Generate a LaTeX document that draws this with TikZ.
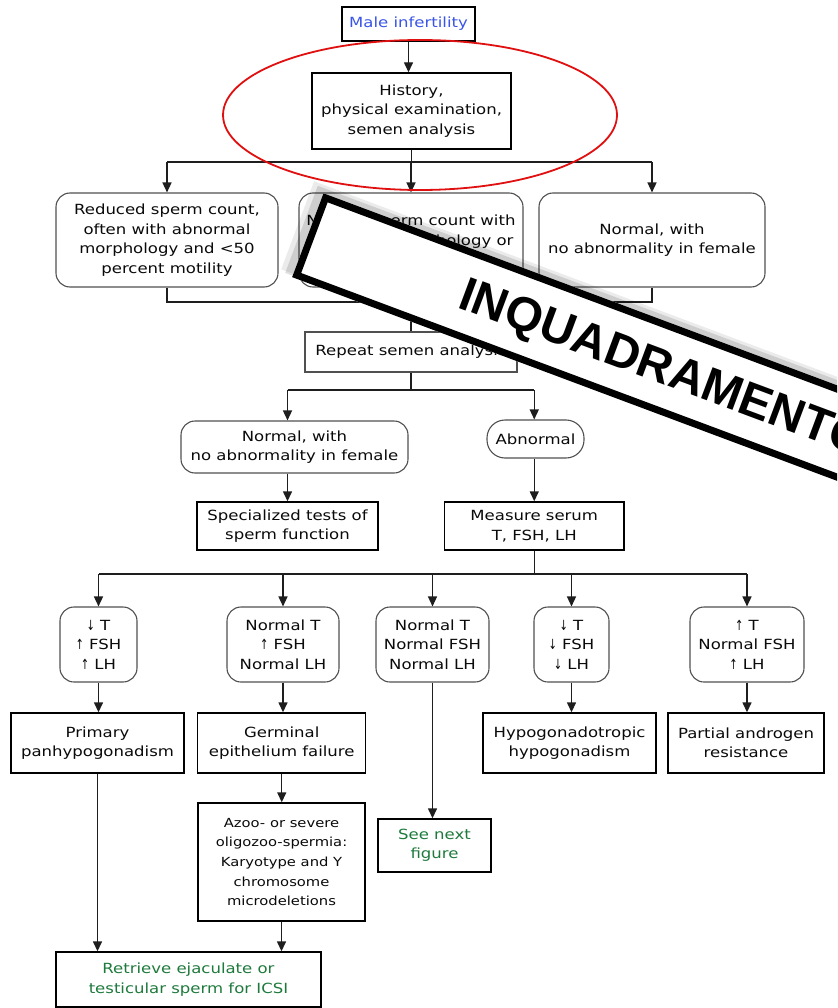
\documentclass[tikz,border=0pt]{standalone}
\usepackage{fontspec}
\setmainfont[FakeStretch=1.18]{DejaVu Sans}
\newfontfamily\bannerfont{Liberation Sans}
\usetikzlibrary{arrows.meta}

\definecolor{ink}{HTML}{0A0A0A}
\definecolor{boxgray}{HTML}{505050}
\definecolor{linegray}{HTML}{1E1E1E}
\definecolor{titleblue}{HTML}{3A55E8}
\definecolor{actgreen}{HTML}{1E7A3C}
\definecolor{markred}{HTML}{E01010}

% narrow arrows used in the hormone boxes
\newcommand\arrdown{\scalebox{0.6}[1]{↓}}
\newcommand\arrup{\scalebox{0.6}[1]{↑}}

\begin{document}
\begin{tikzpicture}[x=1pt,y=-1pt,
  every node/.style={font=\fontsize{14}{19.5}\selectfont, text=ink, align=center, inner sep=0pt},
  rectbox/.style={draw=black, line width=1.4pt, fill=white},
  roundbox/.style={draw=boxgray, line width=1.1pt, rounded corners=14pt, fill=white},
  link/.style={draw=linegray, line width=1.4pt},
  arr/.style={link, -{Triangle[length=10pt,width=9pt]}},
  small/.style={font=\fontsize{12.5}{19.6}\selectfont}
]
\useasboundingbox (0,0) rectangle (837,1008);
\fill[white] (0,0) rectangle (837,1008);

% ---------- boxes ----------
\node[rectbox, line width=1.2pt, minimum width=133, minimum height=34, text=titleblue] (male) at (408.5,24) {Male infertility};
\node[rectbox, minimum width=199, minimum height=76] (hist) at (411.5,111) {History,\\physical examination,\\semen analysis};

\node[roundbox, minimum width=222, minimum height=94] (r1a) at (167,240) {Reduced sperm count,\\often with abnormal\\morphology and <50\\percent motility};
\node[roundbox, minimum width=224, minimum height=94] (r1b) at (411,240) {Normal sperm count with\\abnormal morphology or\\\mbox{}};
\node[roundbox, minimum width=226, minimum height=94] (r1c) at (652,240) {Normal, with\\no abnormality in female};

\node[rectbox, line width=1.1pt, draw=boxgray, minimum width=212, minimum height=40] (rep) at (411,352) {Repeat semen analysis};

\node[roundbox, minimum width=227, minimum height=52] (nrm) at (294.5,447) {Normal, with\\no abnormality in female};
\node[roundbox, rounded corners=18pt, minimum width=97, minimum height=38] (abn) at (535.5,439) {Abnormal};

\node[rectbox, minimum width=181, minimum height=48] (spec) at (287.5,526) {Specialized tests of\\sperm function};
\node[rectbox, minimum width=179.5, minimum height=48] (meas) at (534.25,526) {Measure serum\\T, FSH, LH};

\node[roundbox, minimum width=77, minimum height=75] (b1) at (98.5,644.5) {\arrdown\ T\\\arrup\ FSH\\\arrup\ LH};
\node[roundbox, minimum width=112, minimum height=75] (b2) at (283,644.5) {Normal T\\\arrup\ FSH\\Normal LH};
\node[roundbox, minimum width=113, minimum height=75] (b3) at (432.5,644.5) {Normal T\\Normal FSH\\Normal LH};
\node[roundbox, minimum width=75, minimum height=75] (b4) at (571.5,644.5) {\arrdown\ T\\\arrdown\ FSH\\\arrdown\ LH};
\node[roundbox, minimum width=114, minimum height=75] (b5) at (747,644.5) {\arrup\ T\\Normal FSH\\\arrup\ LH};

\node[rectbox, minimum width=173, minimum height=60] (prim) at (97.5,743) {Primary\\panhypogonadism};
\node[rectbox, minimum width=168, minimum height=60] (germ) at (281.75,743) {Germinal\\epithelium failure};
\node[rectbox, minimum width=173, minimum height=60] (hypo) at (569.5,743) {Hypogonadotropic\\hypogonadism};
\node[rectbox, minimum width=156, minimum height=60] (part) at (746,743) {Partial androgen\\resistance};

\node[rectbox, minimum width=113, minimum height=53, text=actgreen] (next) at (434.5,845.5) {See next\\figure};
\node[rectbox, small, minimum width=167, minimum height=118] (azoo) at (281.5,862) {Azoo- or severe\\oligozoo-spermia:\\Karyotype and Y\\chromosome\\microdeletions};
\node[rectbox, minimum width=265, minimum height=55, text=actgreen] (retr) at (188.5,979.5) {Retrieve ejaculate or\\testicular sperm for ICSI};

% ---------- connectors ----------
\draw[arr] (male.south) -- (male.south |- hist.north);

\coordinate (j1) at (411,162);
\draw[link] (hist.south) -- (hist.south |- j1);
\draw[link] (j1 -| r1a.north) -- (j1 -| r1c.north);
\draw[arr] (j1 -| r1a.north) -- (r1a.north);
\draw[arr] (j1 -| r1b.north) -- (r1b.north);
\draw[arr] (j1 -| r1c.north) -- (r1c.north);

\coordinate (j2) at (411,302);
\draw[link] (r1a.south) -- (r1a.south |- j2) -- (r1c.south |- j2) -- (r1c.south);
\draw[link] (r1b.south) -- (rep.north);

\coordinate (j3) at (411,390);
\draw[link] (rep.south) -- (rep.south |- j3);
\draw[link] (spec.north |- j3) -- (meas.north |- j3);
\draw[arr] (spec.north |- j3) -- (spec.north |- nrm.north);
\draw[arr] (meas.north |- j3) -- (meas.north |- abn.north);
\draw[arr] (spec.north |- nrm.south) -- (spec.north);
\draw[arr] (meas.north |- abn.south) -- (meas.north);

\coordinate (j4) at (534,574);
\draw[link] (meas.south) -- (meas.south |- j4);
\draw[link] (b1.north |- j4) -- (b5.north |- j4);
\foreach \b in {b1,b2,b3,b4,b5}
  \draw[arr] (\b.north |- j4) -- (\b.north);

\draw[arr] (b1.south) -- (b1.south |- prim.north);
\draw[arr] (b2.south) -- (b2.south |- germ.north);
\draw[arr] (b3.south) -- (b3.south |- next.north);
\draw[arr] (b4.south) -- (b4.south |- hypo.north);
\draw[arr] (b5.south) -- (b5.south |- part.north);

\draw[arr] (prim.south) -- (prim.south |- retr.north);
\draw[arr] (germ.south) -- (germ.south |- azoo.north);
\draw[arr] (azoo.south) -- (azoo.south |- retr.north);

% ---------- red highlight ring ----------
\draw[markred, line width=1.8pt] (420,115) ellipse [x radius=197, y radius=75];

% ---------- slanted label band ----------
\begin{scope}
  \clip (0,0) rectangle (837,1008);
  \begin{scope}[shift={(323.5,193.3)}, rotate=-20.5]
    \fill[black, opacity=0.08] (-13,-8) rectangle (820,86);
    \fill[black, opacity=0.12] (-8,-5) rectangle (820,88);
    \fill[white] (0,0) rectangle (820,89.5);
    \draw[black, line width=7pt] (3.5,3.5) rectangle (820,86);
    \node[transform shape, anchor=base west, text=black,
          font=\bannerfont\bfseries\fontsize{48}{48}\selectfont] (band) at (164,60) {INQUADRAMENTO};
  \end{scope}
\end{scope}
\end{tikzpicture}
\end{document}
